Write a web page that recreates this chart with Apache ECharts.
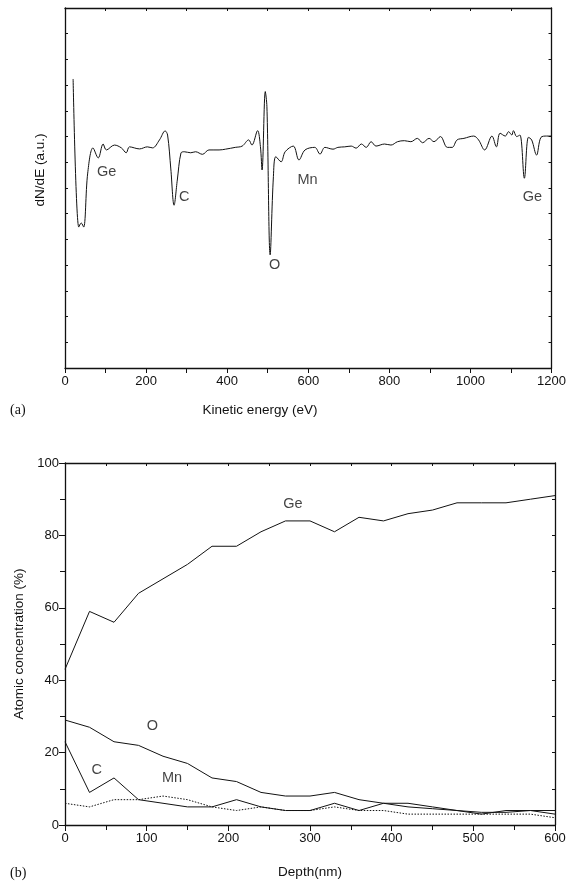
<!DOCTYPE html>
<html><head><meta charset="utf-8">
<script src="https://cdn.jsdelivr.net/npm/echarts@6/dist/echarts.min.js"></script>
<style>html,body{margin:0;padding:0;background:#fff}#c{width:569px;height:886px}</style>
</head><body><div id="c"></div>
<script>
// Panel (a): Auger spectrum
const energy = [20,34,40,46,56,69,82,94,102,122,139,151,159,184,203,216,233,247,253,261,269,277,286,294,310,322,339,355,380,396,420,437,453,461,475,482,486,494,498,506,514,520,533,543,563,577,592,616,629,641,661,673,690,706,718,731,743,755,767,788,804,820,837,853,869,882,898,910,926,943,955,967,984,1008,1020,1035,1053,1064,1073,1086,1094,1102,1106,1114,1122,1133,1143,1151,1163,1174,1188,1200];
const dNdE = [11.24,5.48,5.64,5.48,7.58,8.56,8.17,8.71,8.48,8.67,8.56,8.37,8.60,8.52,8.60,8.56,8.87,9.22,9.06,7.74,6.33,7.31,8.36,8.41,8.37,8.41,8.31,8.48,8.48,8.51,8.58,8.63,8.87,8.67,9.23,8.61,7.70,10.75,10.16,4.40,7.44,8.22,8.02,8.41,8.63,8.09,8.48,8.58,8.32,8.58,8.51,8.58,8.60,8.63,8.55,8.71,8.58,8.80,8.63,8.71,8.67,8.80,8.84,8.80,8.93,8.76,8.93,8.80,9.00,8.58,8.58,8.87,8.93,9.02,8.87,8.48,9.02,8.60,9.13,9.02,9.19,9.06,9.23,9.00,9.06,7.38,8.97,8.87,8.28,8.97,9.02,9.02];
const peakNames = ['Ge','C','O','Mn','Ge'];
const peakE = [103,294,517,598,1153];
const peakY = [7.62,6.65,4.0,7.31,6.65];

// Panel (b): depth profile
const depth = [0,30,60,90,120,150,180,210,240,270,300,330,360,390,420,450,480,510,540,570,600];
const ge = [43,59,56,64,68,72,77,77,81,84,84,81,85,84,86,87,89,89,89,90,91];
const ox = [29,27,23,22,19,17,13,12,9,8,8,9,7,6,5,4.5,4,3.5,3.5,4,3];
const cc = [23,9,13,7,6,5,5,7,5,4,4,6,4,6,6,5,4,3,4,4,4];
const mn = [6,5,7,7,8,7,5,4,5,4,4,5,4,4,3,3,3,3,3,3,2];
const profNames = ['Ge','O','C','Mn'];
const profX = [279,107,39,131];
const profY = [88.7,27.3,15.2,13];

const FONT = 'Liberation Sans';
const TXT = '#111';
const axisLine = {show:true, onZero:false, lineStyle:{color:'#111', width:1.3}};
const tickStyle = {color:'#111', width:1};
const lab = {color:TXT, fontFamily:FONT, fontSize:13, formatter:v=>String(v)};

const chart = echarts.init(document.getElementById('c'));
const labelSeries = (names, xs, ys, xi, yi) => ({
  type:'scatter', xAxisIndex:xi, yAxisIndex:yi, symbolSize:0, silent:true,
  data: names.map((n,i)=>({name:n, value:[xs[i], ys[i]]})),
  label:{show:true, position:'inside', formatter:p=>p.name, color:TXT, fontFamily:FONT, fontSize:14.5}
});

chart.setOption({
  animation:false,
  grid:[
    {left:65, right:14, top:8, height:360},
    {left:65, right:14, top:463, height:362}
  ],
  xAxis:[
    {gridIndex:0, type:'value', position:'bottom', min:0, max:1200, interval:200,
     axisLine, axisTick:{show:true, inside:false, length:5, lineStyle:tickStyle},
     minorTick:{show:true, splitNumber:2, length:5, lineStyle:tickStyle},
     axisLabel:{...lab, margin:7}, splitLine:{show:false}},
    {gridIndex:0, type:'value', position:'top', min:0, max:1200, interval:100,
     axisLine, axisTick:{show:true, inside:true, length:3, lineStyle:tickStyle},
     axisLabel:{show:false}, splitLine:{show:false}},
    {gridIndex:1, type:'value', position:'bottom', min:0, max:600, interval:100,
     axisLine, axisTick:{show:true, inside:false, length:6, lineStyle:tickStyle},
     minorTick:{show:true, splitNumber:2, length:5, lineStyle:tickStyle},
     axisLabel:{...lab, margin:7}, splitLine:{show:false},
     name:'Depth(nm)', nameLocation:'middle', nameGap:40, nameTextStyle:{color:TXT, fontFamily:FONT, fontSize:13.5}},
    {gridIndex:1, type:'value', position:'top', min:0, max:600, interval:50,
     axisLine, axisTick:{show:true, inside:true, length:3, lineStyle:tickStyle},
     axisLabel:{show:false}, splitLine:{show:false}}
  ],
  yAxis:[
    {gridIndex:0, type:'value', position:'left', min:0, max:14, interval:1,
     axisLine, axisTick:{show:true, inside:true, length:3, lineStyle:tickStyle},
     axisLabel:{show:false}, splitLine:{show:false}},
    {gridIndex:0, type:'value', position:'right', min:0, max:14, interval:1,
     axisLine, axisTick:{show:true, inside:true, length:3, lineStyle:tickStyle},
     axisLabel:{show:false}, splitLine:{show:false}},
    {gridIndex:1, type:'value', position:'left', min:0, max:100, interval:20,
     axisLine, axisTick:{show:true, inside:false, length:6, lineStyle:tickStyle},
     minorTick:{show:true, splitNumber:2, length:5, lineStyle:tickStyle},
     axisLabel:{...lab, margin:6}, splitLine:{show:false},
     name:'Atomic concentration (%)', nameLocation:'middle', nameGap:38, nameRotate:90,
     nameTextStyle:{color:TXT, fontFamily:FONT, fontSize:13.5}},
    {gridIndex:1, type:'value', position:'right', min:0, max:100, interval:10,
     axisLine, axisTick:{show:true, inside:true, length:3, lineStyle:tickStyle},
     axisLabel:{show:false}, splitLine:{show:false}}
  ],
  graphic:[
    {type:'text', x:40, y:170, rotation:Math.PI/2,
     style:{text:'dN/dE (a.u.)', fill:TXT, font:'13.5px "Liberation Sans"', align:'center', verticalAlign:'middle'}},
    {type:'text', x:260, y:410, style:{text:'Kinetic energy (eV)', fill:TXT, font:'13.5px "Liberation Sans"', align:'center', verticalAlign:'middle'}},
    {type:'text', x:10, y:410, style:{text:'(a)', fill:TXT, font:'14px "Liberation Serif"', align:'left', verticalAlign:'middle'}},
    {type:'text', x:10, y:873, style:{text:'(b)', fill:TXT, font:'14px "Liberation Serif"', align:'left', verticalAlign:'middle'}}
  ],
  series:[
    {type:'line', xAxisIndex:0, yAxisIndex:0, data:energy.map((e,i)=>[e,dNdE[i]]),
     showSymbol:false, smooth:0.35, lineStyle:{color:'#111', width:1}},
    labelSeries(peakNames, peakE, peakY, 0, 0),
    {type:'line', xAxisIndex:2, yAxisIndex:2, data:depth.map((d,i)=>[d,ge[i]]), showSymbol:false, lineStyle:{color:'#111', width:1}},
    {type:'line', xAxisIndex:2, yAxisIndex:2, data:depth.map((d,i)=>[d,ox[i]]), showSymbol:false, lineStyle:{color:'#111', width:1}},
    {type:'line', xAxisIndex:2, yAxisIndex:2, data:depth.map((d,i)=>[d,cc[i]]), showSymbol:false, lineStyle:{color:'#111', width:1}},
    {type:'line', xAxisIndex:2, yAxisIndex:2, data:depth.map((d,i)=>[d,mn[i]]), showSymbol:false, lineStyle:{color:'#111', width:1, type:[1.5,1.5]}},
    labelSeries(profNames, profX, profY, 2, 2)
  ]
});
</script></body></html>
